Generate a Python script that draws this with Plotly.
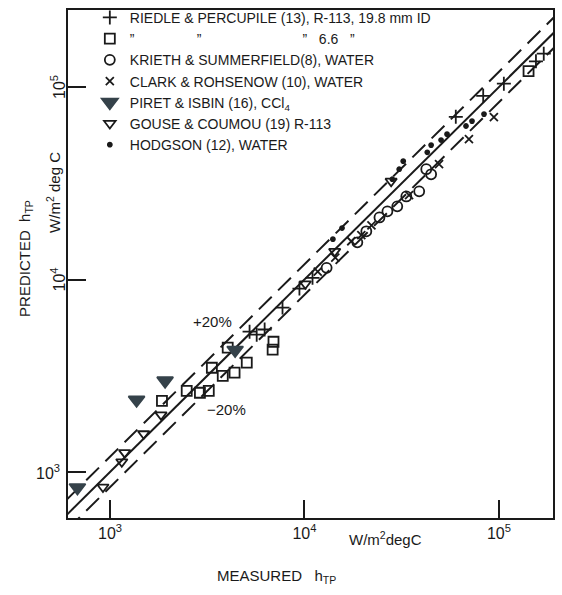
import math
import plotly.graph_objects as go

# ---------------- data ----------------
x_range_log = [2.784, 5.278]
y_range_log = [2.761, 5.40]
tick_vals = [1e3, 1e4, 1e5]
tick_text = ["10<sup>3</sup>", "10<sup>4</sup>", "10<sup>5</sup>"]
band_factor = 1.2

names = [
    "RIEDLE & PERCUPILE (13), R-113, 19.8 mm ID",
    "\u201d                \u201d                          \u201d   6.6   \u201d",
    "KRIETH & SUMMERFIELD(8), WATER",
    "CLARK & ROHSENOW (10), WATER",
    "PIRET & ISBIN (16), CCl<sub>4</sub>",
    "GOUSE & COUMOU (19) R-113",
    "HODGSON (12), WATER",
]

riedle198_meas = [5220, 5680, 6240, 7710, 9420, 11000, 60000, 83000, 106000, 155000, 170000]
riedle198_pred = [5360, 5170, 5500, 7150, 8970, 10200, 70000, 90000, 104000, 136000, 149000]

riedle66_meas = [1850, 2480, 2900, 3220, 3340, 3800, 4370, 5050, 4030, 6930, 6860, 142000]
riedle66_pred = [2340, 2640, 2580, 2640, 3480, 3160, 3280, 3700, 4430, 4750, 4320, 121000]

krieth_meas = [13000, 18700, 20800, 24300, 26700, 30000, 33400, 38900, 44800, 42300]
krieth_pred = [11500, 15600, 17800, 21000, 22600, 24000, 27000, 28700, 35200, 37400]

clark_meas = [11700, 14400, 17400, 19600, 22100, 34500, 49200, 70100, 94200]
clark_pred = [11000, 13000, 15800, 17000, 19100, 27400, 39700, 53600, 69800]

piret_meas = [680, 1370, 1920, 4400]
piret_pred = [830, 2370, 2980, 4300]

gouse_meas = [920, 1150, 1190, 1490, 1830, 10100, 14300, 27900]
gouse_pred = [835, 1130, 1260, 1580, 1980, 9500, 14000, 32400]

hodgson_meas = [28300, 30700, 32200, 42800, 44800, 50400, 54100, 67700, 72700, 83800, 14000, 15600]
hodgson_pred = [33200, 37400, 41200, 45800, 49900, 53000, 56900, 62700, 66500, 72300, 16200, 18500]

# ---------------- figure ----------------
ink = "#1a1a1a"
font_family = "Liberation Sans"
fig = go.Figure()

line_x = [10 ** x_range_log[0] * 0.5, 10 ** x_range_log[1] * 2]
fig.add_trace(go.Scatter(x=line_x, y=line_x, mode="lines", showlegend=False,
                         line=dict(color=ink, width=2), hoverinfo="skip"))
fig.add_trace(go.Scatter(x=line_x, y=[v * band_factor for v in line_x], mode="lines",
                         showlegend=False, hoverinfo="skip",
                         line=dict(color=ink, width=2, dash="18px,9px")))
fig.add_trace(go.Scatter(x=line_x, y=[v / band_factor for v in line_x], mode="lines",
                         showlegend=False, hoverinfo="skip",
                         line=dict(color=ink, width=2, dash="18px,9px")))

specs = [
    (riedle198_meas, riedle198_pred, "cross-thin-open", 10, ink),
    (riedle66_meas, riedle66_pred, "square-open", 10, ink),
    (krieth_meas, krieth_pred, "circle-open", 10, ink),
    (clark_meas, clark_pred, "x-thin-open", 8, ink),
    (piret_meas, piret_pred, "triangle-down", 14, "#35424a"),
    (gouse_meas, gouse_pred, "triangle-down-open", 10, ink),
    (hodgson_meas, hodgson_pred, "circle", 4, ink),
]
for (mx, my, sym, sz, col), nm in zip(specs, names):
    fig.add_trace(go.Scatter(
        x=mx, y=my, mode="markers", name=nm,
        marker=dict(symbol=sym, size=sz, color=col,
                    line=dict(color=col, width=1.8)),
    ))

axis_common = dict(type="log", showline=True, linecolor=ink, linewidth=2,
                   mirror=True, ticks="inside", ticklen=18, tickwidth=2,
                   tickcolor=ink, showgrid=False, zeroline=False)
fig.update_xaxes(range=x_range_log, tickvals=tick_vals, ticktext=tick_text,
                 tickfont=dict(size=16, color=ink, family=font_family),
                 **axis_common)
fig.update_yaxes(range=y_range_log, tickvals=tick_vals, showticklabels=False,
                 **axis_common)

annos = []
# y tick labels (10^5 and 10^4 written sideways, 10^3 upright)
for v, t in zip(tick_vals, tick_text):
    upright = v == tick_vals[0]
    annos.append(dict(x=0, xref="paper", y=math.log10(v), yref="y",
                      xshift=-20 if upright else -10,
                      text=t, showarrow=False, textangle=0 if upright else -90,
                      xanchor="center", yanchor="middle",
                      font=dict(size=16, color=ink, family=font_family)))
annos += [
    dict(x=0, y=0.51, xref="paper", yref="paper", xshift=-42, textangle=-90,
         showarrow=False, xanchor="center", yanchor="middle",
         text="PREDICTED  h<sub>TP</sub>", font=dict(size=15, color=ink, family=font_family)),
    dict(x=0, y=0.64, xref="paper", yref="paper", xshift=-14, textangle=-90,
         showarrow=False, xanchor="center", yanchor="middle",
         text="W/m<sup>2</sup> deg C", font=dict(size=15, color=ink, family=font_family)),
    dict(x=0.43, y=-0.115, xref="paper", yref="paper", showarrow=False,
         xanchor="center", yanchor="middle",
         text="MEASURED   h<sub>TP</sub>", font=dict(size=15, color=ink, family=font_family)),
    dict(x=0.655, y=-0.04, xref="paper", yref="paper", showarrow=False,
         xanchor="center", yanchor="middle",
         text="W/m<sup>2</sup>degC", font=dict(size=15, color=ink, family=font_family)),
    dict(x=0.297, y=0.386, xref="paper", yref="paper", showarrow=False,
         xanchor="center", yanchor="middle",
         text="+20%", font=dict(size=15, color=ink, family=font_family)),
    dict(x=0.326, y=0.213, xref="paper", yref="paper", showarrow=False,
         xanchor="center", yanchor="middle",
         text="\u221220%", font=dict(size=15, color=ink, family=font_family)),
]

fig.update_layout(
    width=562, height=595,
    margin=dict(l=68, r=9, t=10, b=77, autoexpand=False),
    paper_bgcolor="white", plot_bgcolor="white",
    annotations=annos,
    legend=dict(x=0.045, y=1.016, xanchor="left", yanchor="top",
                bgcolor="rgba(0,0,0,0)", borderwidth=0, tracegroupgap=0,
                font=dict(size=14, color=ink, family=font_family)),
)

fig.write_html("out.html")
